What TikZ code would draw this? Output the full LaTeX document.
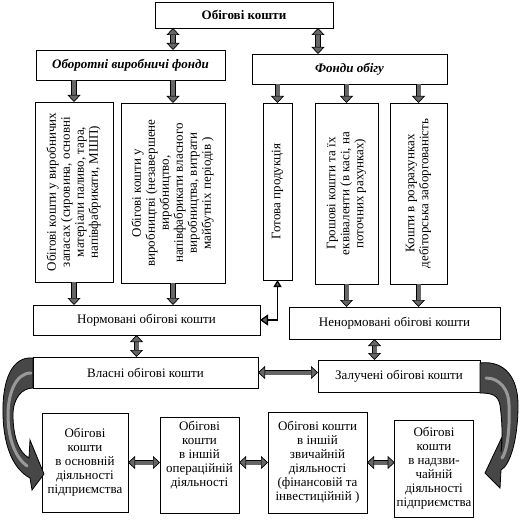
\documentclass[tikz,border=0pt]{standalone}
\usepackage{fontspec}
\setmainfont{Liberation Serif}
\usetikzlibrary{arrows.meta}
\usetikzlibrary{positioning}

\newcommand{\vtext}[1]{\rotatebox{90}{\begin{tabular}{@{}c@{}}#1\end{tabular}}}

\begin{document}
\begin{tikzpicture}[x=1pt,y=-1pt]
  \tikzset{BoxStyle/.style = {
    shape         = rectangle,
    draw          = black,
    fill          = white,
    line width    = 0.8pt,
    text          = black,
    align         = center,
    inner sep     = 2pt,
    outer sep     = 0pt,
    font          = \fontsize{13}{14}\selectfont
    }
  }
  \tikzset{FatArrowStyle/.style = {
    draw            = black,
    line width      = 0.7pt,
    double          = black!60,
    double distance = 4pt,
    -{Triangle[length=7pt,width=13pt,fill=black!60]}
    }
  }
  \tikzset{FatBothStyle/.style = {
    FatArrowStyle,
    {Triangle[length=7pt,width=13pt,fill=black!60]}-{Triangle[length=7pt,width=13pt,fill=black!60]}
    }
  }
  \tikzset{ThinBothStyle/.style = {
    draw          = black,
    line width    = 1.3pt,
    {Triangle[length=7pt,width=8pt,fill=black!60]}-{Triangle[length=8pt,width=11pt,fill=black!60]}
    }
  }
  \tikzset{RibbonStyle/.style = {
    draw          = black,
    line width    = 0.8pt,
    fill          = black!72
    }
  }
  \useasboundingbox (0,0) rectangle (520,526);

	\node[BoxStyle, minimum width=178, minimum height=26, font=\fontsize{13}{14}\selectfont\bfseries](Obig) at (244, 15) {Обігові кошти};
	\node[BoxStyle, minimum width=189, minimum height=30, font=\fontsize{13}{14}\selectfont\bfseries\itshape](OVF) at (130.5, 65) {Оборотні виробничі фонди};
	\node[BoxStyle, minimum width=195, minimum height=30, font=\fontsize{13}{14}\selectfont\bfseries\itshape](FO) at (349.5, 69) {Фонди обігу};
	\node[BoxStyle, minimum width=78, minimum height=180](B1) at (74, 192) {\vtext{Обігові кошти у виробничих\\запасах (сировина, основні\\матеріали паливо, тара,\\напівфабрикати, МШП)}};
	\node[BoxStyle, minimum width=104, minimum height=180](B2) at (173, 193) {\vtext{Обігові кошти у\\виробництві (незавершене\\виробництво,\\напівфабрикати власного\\виробництва, витрати\\майбутніх періодів )}};
	\node[BoxStyle, minimum width=29, minimum height=177](B3) at (277.5, 191.5) {\vtext{Готова продукція}};
	\node[BoxStyle, minimum width=63, minimum height=181](B4) at (346.5, 193.5) {\vtext{Грошові кошти та їх\\еквіваленти (в касі, на\\поточних рахунках)}};
	\node[BoxStyle, minimum width=57, minimum height=181](B5) at (418.5, 193.5) {\vtext{Кошти в розрахунках\\дебіторська заборгованість}};
	\node[BoxStyle, minimum width=227, minimum height=30](Norm) at (146.5, 320) {Нормовані обігові кошти};
	\node[BoxStyle, minimum width=211, minimum height=32](Nenorm) at (394.5, 323) {Ненормовані обігові кошти};
	\node[BoxStyle, minimum width=225, minimum height=31](Vlasni) at (145.5, 372.5) {Власні обігові кошти};
	\node[BoxStyle, minimum width=162, minimum height=32](Zaluch) at (399, 376) {Залучені обігові кошти};
	\node[BoxStyle, minimum width=86, minimum height=99](D1) at (85, 462.5) {Обігові\\кошти\\в основній\\діяльності\\підприємства};
	\node[BoxStyle, minimum width=79, minimum height=96](D2) at (199.5, 465) {Обігові\\кошти\\в іншій\\операційній\\діяльності\\[8pt]};
	\node[BoxStyle, minimum width=99, minimum height=101](D3) at (317.5, 462.5) {Обігові кошти\\в іншій\\звичайній\\діяльності\\(фінансовій та\\інвестиційній )};
	\node[BoxStyle, minimum width=72, minimum height=97](D4) at (434, 468.5) {Обігові\\кошти\\в надзви-\\чайній\\діяльності\\підприємства};

	\draw[FatBothStyle](Obig.south -| B2.north) to (OVF.north -| B2.north);
	\draw[FatBothStyle]([xshift=-15pt]Obig.south east) to ([xshift=-15pt]Obig.south east |- FO.north);
	\draw[FatArrowStyle](OVF.south -| B1.north) to (B1.north);
	\draw[FatArrowStyle](OVF.south -| B2.north) to (B2.north);
	\draw[FatArrowStyle](FO.south -| B3.north) to (B3.north);
	\draw[FatArrowStyle](FO.south -| B4.north) to (B4.north);
	\draw[FatArrowStyle](FO.south -| B5.north) to (B5.north);
	\draw[FatArrowStyle](B1.south) to (B1.south |- Norm.north);
	\draw[FatArrowStyle](B2.south) to (B2.south |- Norm.north);
	\draw[FatArrowStyle](B4.south) to (B4.south |- Nenorm.north);
	\draw[FatArrowStyle](B5.south) to (B5.south |- Nenorm.north);
	\draw[ThinBothStyle](B3.south) |- (Norm.east);
	\draw[FatBothStyle]([xshift=-10pt]Norm.south) to ([xshift=-10pt]Norm.south |- Vlasni.north);
	\draw[FatBothStyle]([xshift=-20pt]Nenorm.south) to ([xshift=-20pt]Nenorm.south |- Zaluch.north);
	\draw[FatBothStyle](Vlasni.east) to (Vlasni.east -| Zaluch.west);
	\draw[FatBothStyle](D1.east) to (D1.east -| D2.west);
	\draw[FatBothStyle](D3.west) to (D3.west -| D2.east);
	\draw[FatBothStyle](D3.east) to (D3.east -| D4.west);

	% curved arrows
	\draw[RibbonStyle](Vlasni.west |- 0,358) .. controls (12,356) and (2,380) .. (3,415)
	  .. controls (4,450) and (15,470) .. (30,478) -- (32,490) -- (44,474) -- (30,440) -- (29,458)
	  .. controls (18,452) and (13,435) .. (13,415) .. controls (13,398) and (22,388) .. (Vlasni.west |- 0,388) -- cycle;
	\draw[white, opacity=0.45, line width=3pt, line cap=round](31,373) .. controls (15,373) and (8,395) .. (8,415) .. controls (8,440) and (16,458) .. (27,466);
	\draw[RibbonStyle](Zaluch.east |- 0,363) .. controls (505,360) and (518,378) .. (518,405)
	  .. controls (518,440) and (510,465) .. (501,470) -- (500,488) -- (485,473) -- (502,437) -- (501,452)
	  .. controls (503,440) and (502,420) .. (500,405) .. controls (498,395) and (492,393) .. (Zaluch.east |- 0,393) -- cycle;
	\draw[white, opacity=0.45, line width=3pt, line cap=round](486,378) .. controls (500,378) and (509,390) .. (509,405) .. controls (510,430) and (507,452) .. (502,458);
\end{tikzpicture}
\end{document}
